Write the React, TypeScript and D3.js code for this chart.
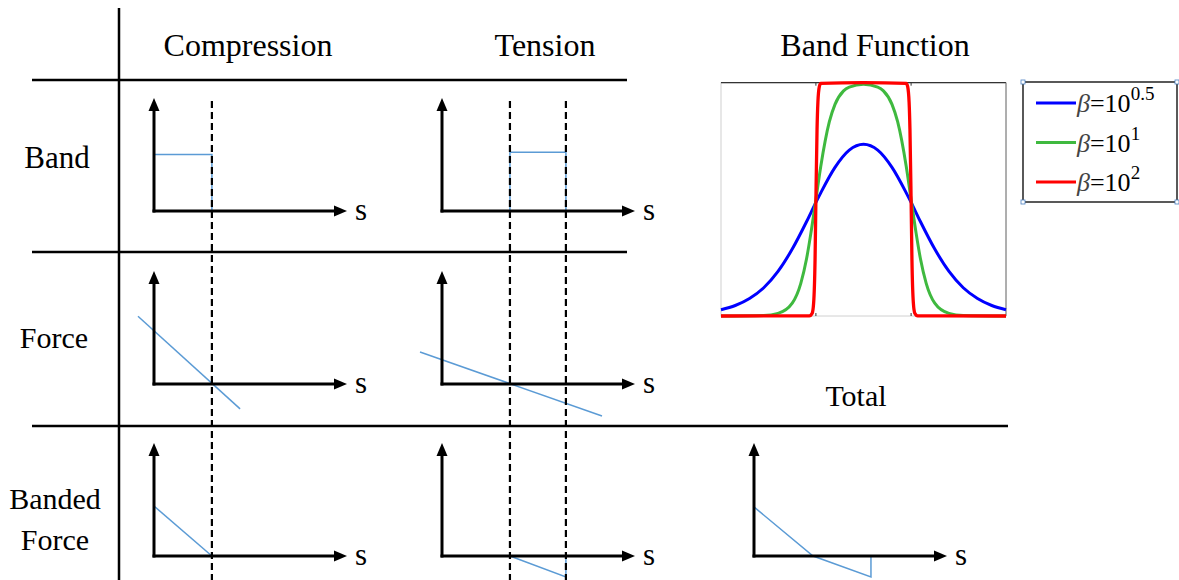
import * as d3 from 'd3';

// table headers
const colLabels = ['Compression', 'Tension'];
const rowLabels = [['Band'], ['Force'], ['Banded', 'Force']];

// mini panels: s along the axis (0..10), value up the axis (0..10)
const compEdges = [3.0];
const tensEdges = [3.52, 6.42];

const bandComp: [number, number][] = [[0, 5.0], [3.0, 5.0], [3.0, 0]];
const bandTens: [number, number][] = [[3.52, 0], [3.52, 5.2], [6.42, 5.2], [6.42, 0]];
const forceComp: [number, number][] = [[-0.83, 6.0], [4.46, -2.2]];
const forceTens: [number, number][] = [[-1.14, 2.83], [8.29, -2.83]];
const bandedComp: [number, number][] = [[0, 4.42], [3.0, 0]];
const bandedTens: [number, number][] = [[3.52, 0], [6.42, -1.86], [6.42, 0]];
const totalForce: [number, number][] = [[0, 0], [0, 4.34], [3.06, 0], [6.06, -1.86], [6.06, 0]];

// band function curves (x and y both 0..1 of the plot box)
const bandBlue: [number, number][] = [
  [0, 0.027], [0.05, 0.045], [0.1, 0.075], [0.15, 0.121], [0.2, 0.191], [0.25, 0.287],
  [0.3, 0.404], [0.333, 0.487], [0.35, 0.528], [0.4, 0.637], [0.45, 0.711], [0.5, 0.736],
  [0.55, 0.711], [0.6, 0.637], [0.65, 0.528], [0.667, 0.487], [0.7, 0.404], [0.75, 0.287],
  [0.8, 0.191], [0.85, 0.121], [0.9, 0.075], [0.95, 0.045], [1, 0.027],
];
const bandGreen: [number, number][] = [
  [0, 0], [0.15, 0.002], [0.2, 0.011], [0.25, 0.055], [0.28, 0.14], [0.3, 0.244],
  [0.315, 0.352], [0.333, 0.5], [0.35, 0.641], [0.38, 0.832], [0.4, 0.907], [0.43, 0.965],
  [0.45, 0.981], [0.5, 0.993], [0.55, 0.981], [0.57, 0.965], [0.6, 0.907], [0.62, 0.832],
  [0.65, 0.641], [0.667, 0.5], [0.685, 0.352], [0.7, 0.244], [0.72, 0.14], [0.75, 0.055],
  [0.8, 0.011], [0.85, 0.002], [1, 0],
];
const bandRed: [number, number][] = [
  [0, 0], [0.31, 0.0004], [0.32, 0.012], [0.325, 0.055], [0.33, 0.24], [0.333, 0.5],
  [0.337, 0.8], [0.34, 0.916], [0.345, 0.983], [0.35, 0.997], [0.5, 1], [0.65, 0.997],
  [0.655, 0.983], [0.66, 0.916], [0.663, 0.8], [0.667, 0.5], [0.67, 0.24], [0.675, 0.055],
  [0.68, 0.012], [0.69, 0.0004], [1, 0],
];
const bandTicks = [0.333, 0.667];
const legendExp = ['0.5', '1', '2'];
const legendColors = ['#0000ff', '#3fb93f', '#ff0000'];

const FONT = '"Liberation Serif", "Times New Roman", serif';
const lineBlue = '#5b9bd5';

const sScale = d3.scaleLinear().domain([0, 10]).range([0, 193]);
const fScale = d3.scaleLinear().domain([0, 10]).range([0, -113]);

const colX = [154, 442, 754];
const rowY = [211, 384, 556];

const bx = d3.scaleLinear().domain([0, 1]).range([721, 1006]);
const by = d3.scaleLinear().domain([0, 1]).range([316, 82.7]);

function MiniAxes({ x0, y0 }: { x0: number; y0: number }) {
  const tipX = x0 + sScale(10);
  const tipY = y0 + fScale(10);
  return (
    <g>
      <line x1={x0} y1={y0 + 1.5} x2={x0} y2={tipY + 10} stroke="#000" strokeWidth={3} />
      <line x1={x0 - 1.5} y1={y0} x2={tipX - 10} y2={y0} stroke="#000" strokeWidth={3} />
      <path d={`M${x0},${tipY} L${x0 - 5.5},${tipY + 13} L${x0 + 5.5},${tipY + 13} Z`} fill="#000" />
      <path d={`M${tipX},${y0} L${tipX - 13},${y0 - 5.5} L${tipX - 13},${y0 + 5.5} Z`} fill="#000" />
      <text x={tipX + 8} y={y0 + 9} fontSize={31} fontFamily={FONT}>s</text>
    </g>
  );
}

function Trace({ x0, y0, pts }: { x0: number; y0: number; pts: [number, number][] }) {
  const line = d3.line<[number, number]>()
    .x(d => x0 + sScale(d[0]))
    .y(d => y0 + fScale(d[1]));
  return <path d={line(pts) || ''} fill="none" stroke={lineBlue} strokeWidth={1.5} />;
}

export default function App() {
  const bandLine = d3.line<[number, number]>()
    .x(d => bx(d[0]))
    .y(d => by(d[1]))
    .curve(d3.curveMonotoneX);

  const panels: { c: number; r: number; pts: [number, number][] }[] = [
    { c: 0, r: 0, pts: bandComp },
    { c: 1, r: 0, pts: bandTens },
    { c: 0, r: 1, pts: forceComp },
    { c: 1, r: 1, pts: forceTens },
    { c: 0, r: 2, pts: bandedComp },
    { c: 1, r: 2, pts: bandedTens },
    { c: 2, r: 2, pts: totalForce },
  ];

  const dashes = [
    ...compEdges.map(e => colX[0] + sScale(e)),
    ...tensEdges.map(e => colX[1] + sScale(e)),
  ];

  return (
    <svg width={1179} height={580} style={{ position: 'absolute', left: 0, top: 0, background: '#fff' }}>
      {/* table grid */}
      <line x1={119} y1={8} x2={119} y2={580} stroke="#000" strokeWidth={2.5} />
      <line x1={32} y1={80} x2={627} y2={80} stroke="#000" strokeWidth={2.5} />
      <line x1={32} y1={252} x2={627} y2={252} stroke="#000" strokeWidth={2.5} />
      <line x1={32} y1={426} x2={1008} y2={426} stroke="#000" strokeWidth={2.5} />

      {/* headers */}
      <text x={248} y={56} fontSize={32} fontFamily={FONT} textAnchor="middle">{colLabels[0]}</text>
      <text x={545} y={56} fontSize={32} fontFamily={FONT} textAnchor="middle">{colLabels[1]}</text>
      <text x={875} y={56} fontSize={32} fontFamily={FONT} textAnchor="middle">Band Function</text>
      <text x={856} y={406} fontSize={30} fontFamily={FONT} textAnchor="middle">Total</text>
      <text x={57} y={168} fontSize={31} fontFamily={FONT} textAnchor="middle">{rowLabels[0][0]}</text>
      <text x={54} y={348} fontSize={30} fontFamily={FONT} textAnchor="middle">{rowLabels[1][0]}</text>
      <text x={55} y={509} fontSize={30} fontFamily={FONT} textAnchor="middle">{rowLabels[2][0]}</text>
      <text x={55} y={550} fontSize={30} fontFamily={FONT} textAnchor="middle">{rowLabels[2][1]}</text>

      {/* mini panels */}
      {panels.map((p, i) => (
        <Trace key={`t${i}`} x0={colX[p.c]} y0={rowY[p.r]} pts={p.pts} />
      ))}
      {dashes.map((x, i) => (
        <line key={`d${i}`} x1={x} y1={101} x2={x} y2={580} stroke="#000" strokeWidth={2.2} strokeDasharray="7,4" />
      ))}
      {panels.map((p, i) => (
        <MiniAxes key={`a${i}`} x0={colX[p.c]} y0={rowY[p.r]} />
      ))}

      {/* band function plot */}
      <rect x={bx(0)} y={by(1)} width={bx(1) - bx(0)} height={by(0) - by(1)} fill="#fff" stroke="#d0d0d0" strokeWidth={1} />
      <line x1={bx(0)} y1={by(1)} x2={bx(1)} y2={by(1)} stroke="#333" strokeWidth={1.2} />
      <line x1={bx(1)} y1={by(1)} x2={bx(1)} y2={by(0)} stroke="#777" strokeWidth={1} />
      {bandTicks.map((t, i) => (
        <g key={`bt${i}`}>
          <line x1={bx(t)} y1={by(1)} x2={bx(t)} y2={by(1) + 3} stroke="#333" />
          <line x1={bx(t)} y1={by(0)} x2={bx(t)} y2={by(0) - 3} stroke="#333" />
        </g>
      ))}
      <path d={bandLine(bandBlue) || ''} fill="none" stroke={legendColors[0]} strokeWidth={3} />
      <path d={bandLine(bandGreen) || ''} fill="none" stroke={legendColors[1]} strokeWidth={3} />
      <path d={bandLine(bandRed) || ''} fill="none" stroke={legendColors[2]} strokeWidth={3.3} />

      {/* legend */}
      <rect x={1023} y={82} width={154} height={120} fill="#fff" stroke="#000" strokeWidth={1.3} />
      {[[1023, 82], [1023, 202], [1177, 82], [1177, 202]].map(([x, y], i) => (
        <rect key={`h${i}`} x={x - 2} y={y - 2} width={4} height={4} fill="#fff" stroke="#4a7fc1" strokeWidth={0.8} />
      ))}
      {legendExp.map((e, i) => {
        const y = 103 + i * 39.5;
        return (
          <g key={`l${i}`}>
            <line x1={1036} y1={y} x2={1076} y2={y} stroke={legendColors[i]} strokeWidth={3} />
            <text x={1077} y={y + 9} fontSize={26} fontFamily={FONT}>
              <tspan fontStyle="italic" fill="#444">β</tspan>
              <tspan>=10</tspan>
              <tspan fontSize={19} dy={-12}>{e}</tspan>
            </text>
          </g>
        );
      })}
    </svg>
  );
}
